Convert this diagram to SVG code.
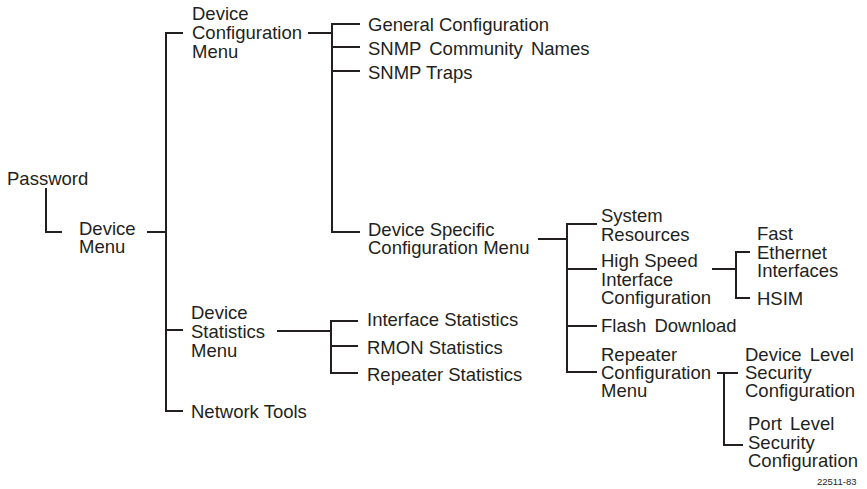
<svg xmlns="http://www.w3.org/2000/svg" width="867" height="489" viewBox="0 0 867 489">
<style>
text{font-family:"Liberation Sans",Arial,sans-serif;font-size:18.5px;fill:#231f20}
.c path{fill:none;stroke:#231f20;stroke-width:2}
.id{font-size:9.5px}
</style>
<rect width="867" height="489" fill="#fff"/>
<g class="c" id="connectors">
<path d="M46 188V232H62"/>
<path d="M147 232H166M183 33H166V411H183M166 330H183"/>
<path d="M308 33H332M360 24H332V232H360M332 47H360M332 71H360"/>
<path d="M538 239H567M597 224H567V372H597M567 269H597M567 326H597"/>
<path d="M712 269H736M750 252H736V298H750"/>
<path d="M717 373H738M724 373V445H743"/>
<path d="M277 331H331M358 321H331V373H358M331 346H358"/>
</g>
<g id="password"><text x="7" y="185">Password</text></g>
<g id="device-menu"><text x="79" y="235">Device<tspan x="79" y="253">Menu</tspan></text></g>
<g id="device-config-menu"><text x="192" y="20">Device<tspan x="192" y="39">Configuration</tspan><tspan x="192" y="58">Menu</tspan></text></g>
<g id="general-config"><text x="368" y="31">General Configuration</text></g>
<g id="snmp-community"><text x="368" y="55" word-spacing="3">SNMP Community Names</text></g>
<g id="snmp-traps"><text x="368" y="79">SNMP Traps</text></g>
<g id="device-specific"><text x="368" y="236">Device Specific<tspan x="368" y="254">Configuration Menu</tspan></text></g>
<g id="device-stats-menu"><text x="191" y="319">Device<tspan x="191" y="338">Statistics</tspan><tspan x="191" y="357">Menu</tspan></text></g>
<g id="network-tools"><text x="191" y="418">Network Tools</text></g>
<g id="interface-stats"><text x="367" y="326">Interface Statistics</text></g>
<g id="rmon-stats"><text x="367" y="354">RMON Statistics</text></g>
<g id="repeater-stats"><text x="367" y="381">Repeater Statistics</text></g>
<g id="system-resources"><text x="601" y="222">System<tspan x="601" y="241">Resources</tspan></text></g>
<g id="high-speed"><text x="601" y="267">High Speed<tspan x="601" y="285.5">Interface</tspan><tspan x="601" y="304">Configuration</tspan></text></g>
<g id="flash-download"><text x="601" y="332" word-spacing="3">Flash Download</text></g>
<g id="repeater-config"><text x="601" y="361">Repeater<tspan x="601" y="379">Configuration</tspan><tspan x="601" y="397">Menu</tspan></text></g>
<g id="fast-ethernet"><text x="757" y="240">Fast<tspan x="757" y="258.5">Ethernet</tspan><tspan x="757" y="277">Interfaces</tspan></text></g>
<g id="hsim"><text x="757" y="305">HSIM</text></g>
<g id="device-level"><text x="745" y="361" word-spacing="3">Device Level<tspan x="745" y="379">Security</tspan><tspan x="745" y="397">Configuration</tspan></text></g>
<g id="port-level"><text x="748" y="430" word-spacing="3">Port Level<tspan x="748" y="449">Security</tspan><tspan x="748" y="467">Configuration</tspan></text></g>
<text class="id" x="817" y="485">22511-83</text>
</svg>
